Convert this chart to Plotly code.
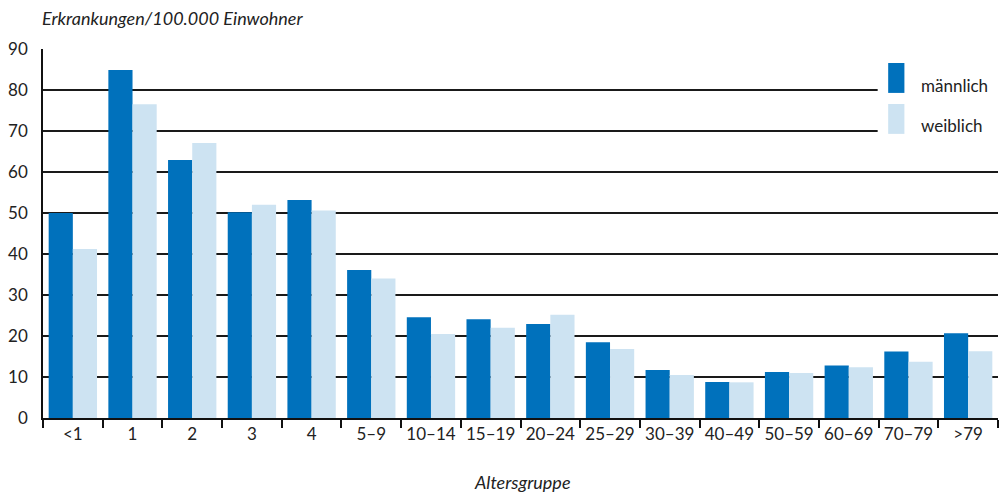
import plotly.graph_objects as go

# Altersgruppen und Erkrankungen je 100.000 Einwohner
groups = ["<1", "1", "2", "3", "4", "5–9", "10–14", "15–19", "20–24",
          "25–29", "30–39", "40–49", "50–59", "60–69", "70–79", ">79"]
maennlich = [50.0, 84.9, 62.9, 50.2, 53.2, 36.1, 24.6, 24.1, 22.9,
             18.5, 11.7, 8.8, 11.2, 12.8, 16.2, 20.7]
weiblich = [41.2, 76.5, 67.1, 52.0, 50.6, 34.0, 20.5, 22.0, 25.2,
            16.8, 10.5, 8.7, 11.0, 12.4, 13.7, 16.3]
y_ticks = [0, 10, 20, 30, 40, 50, 60, 70, 80, 90]

c_m = "#0071BC"
c_w = "#CDE3F2"
font = "Lato, 'Open Sans', sans-serif"

fig = go.Figure()
fig.add_trace(go.Bar(x=groups, y=maennlich, name="männlich", marker_color=c_m,
                     marker_line_width=0, showlegend=False))
fig.add_trace(go.Bar(x=groups, y=weiblich, name="weiblich", marker_color=c_w,
                     marker_line_width=0, showlegend=False))

# eigene Legende (hohe schmale Kästchen, überdeckt Gitterlinien)
shapes = [
    dict(type="rect", xref="paper", yref="paper", x0=0.874, x1=1.0, y0=0.75, y1=0.985,
         fillcolor="white", line_width=0, layer="above"),
    dict(type="rect", xref="paper", yref="paper", x0=0.885, x1=0.902, y0=0.881, y1=0.962,
         fillcolor=c_m, line_width=0, layer="above"),
    dict(type="rect", xref="paper", yref="paper", x0=0.885, x1=0.902, y0=0.770, y1=0.851,
         fillcolor=c_w, line_width=0, layer="above"),
]
annotations = [
    dict(text="männlich", xref="paper", yref="paper", x=0.917, y=0.900,
         xanchor="left", yanchor="middle", showarrow=False,
         font=dict(family=font, size=17, color="#222")),
    dict(text="weiblich", xref="paper", yref="paper", x=0.917, y=0.792,
         xanchor="left", yanchor="middle", showarrow=False,
         font=dict(family=font, size=17, color="#222")),
    dict(text="<i>Erkrankungen/100.000 Einwohner</i>", xref="paper", yref="paper",
         x=-0.003, y=1.085, xanchor="left", yanchor="middle", showarrow=False,
         font=dict(family=font, size=18, color="#222")),
    dict(text="<i>Altersgruppe</i>", xref="paper", yref="paper",
         x=0.502, y=-0.173, xanchor="center", yanchor="middle", showarrow=False,
         font=dict(family=font, size=18, color="#222")),
]

fig.update_layout(
    width=1001, height=492,
    barmode="group", bargap=0.19, bargroupgap=0.0,
    plot_bgcolor="white", paper_bgcolor="white",
    margin=dict(l=43, r=3, t=49, b=74),
    font=dict(family=font, size=17, color="#222"),
    shapes=shapes, annotations=annotations,
    xaxis=dict(
        automargin=False,
        showline=True, linecolor="#111", linewidth=1.5,
        ticks="outside", tickson="boundaries", ticklen=8, tickcolor="#111", tickwidth=1.5,
        showgrid=False, tickfont=dict(size=17),
    ),
    yaxis=dict(
        automargin=False,
        range=[0, 90], tickvals=y_ticks,
        showline=True, linecolor="#111", linewidth=1.5,
        showgrid=True, gridcolor="#1a1a1a", gridwidth=1.5,
        zeroline=False, ticks="", tickfont=dict(size=17),
        ticklabelstandoff=10,
    ),
)

fig.write_html("out.html", config={"displayModeBar": False},
               post_script="document.body.style.margin='0';")
